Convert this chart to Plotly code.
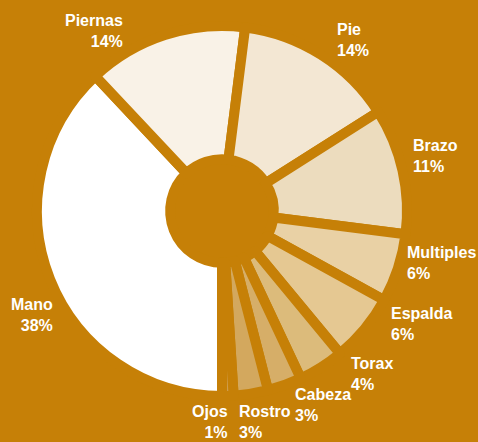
import plotly.graph_objects as go

# ---- data ----
labels = ["Mano", "Piernas", "Pie", "Brazo", "Multiples", "Espalda",
          "Torax", "Cabeza", "Rostro", "Ojos"]
values = [38, 14, 14, 11, 6, 6, 4, 3, 3, 1]
slice_colors = ["#ffffff", "#f9f2e7", "#f3e7d3", "#ecdcbe", "#e9d1a5",
                "#e5c892", "#dcbb7b", "#d6ae68", "#d3a85e", "#cf9d4c"]

BG = "#c68007"
W, H = 478, 442
L, R, T, B = 37, 71, 26, 46

# label anchor positions (pixels) and side
label_pos = [
    (55, 315, "right"),   # Mano
    (125, 31, "right"),   # Piernas
    (335, 40, "left"),    # Pie
    (411, 156, "left"),   # Brazo
    (405, 263, "left"),   # Multiples
    (389, 324, "left"),   # Espalda
    (349, 374, "left"),   # Torax
    (293, 405, "left"),   # Cabeza
    (237, 422, "left"),   # Rostro
    (230, 422, "right"),  # Ojos
]

fig = go.Figure(go.Pie(
    labels=labels,
    values=values,
    sort=False,
    direction="clockwise",
    rotation=180,
    hole=0.28,
    textinfo="none",
    hoverinfo="label+percent",
    marker=dict(colors=slice_colors, line=dict(color=BG, width=10)),
    showlegend=False,
))

pw, ph = W - L - R, H - T - B
annotations = []
for lab, val, (px, py, side) in zip(labels, values, label_pos):
    annotations.append(dict(
        text=f"{lab}<br>{val}%",
        x=(px - L) / pw, y=1 - (py - T) / ph,
        xref="paper", yref="paper",
        xanchor=side, yanchor="middle", align=side,
        showarrow=False,
        font=dict(family="Liberation Sans, Arial, sans-serif",
                  size=16, color="white", weight="bold"),
    ))

fig.update_layout(
    width=W, height=H,
    margin=dict(l=L, r=R, t=T, b=B),
    paper_bgcolor=BG, plot_bgcolor=BG,
    annotations=annotations,
)
fig.write_html(
    "out.html",
    config={"displayModeBar": False},
    post_script="document.body.style.margin='0';document.body.style.overflow='hidden';",
)
